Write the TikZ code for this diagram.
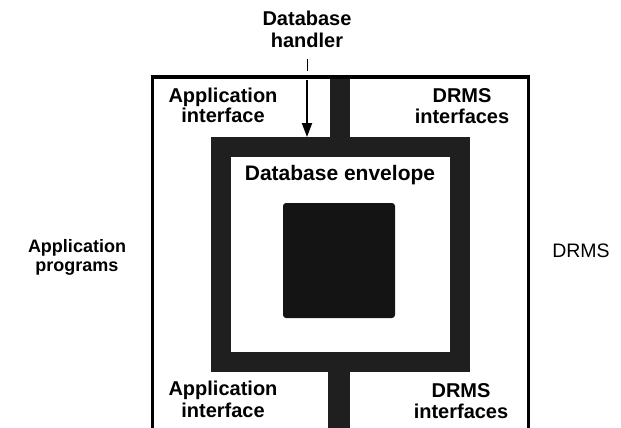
\documentclass[tikz,border=0pt]{standalone}
\usepackage{fontspec}
\setmainfont{Liberation Sans}
\usetikzlibrary{arrows.meta}
\begin{document}
\begin{tikzpicture}[x=1pt,y=-1pt,
  lbl/.style={anchor=base,inner sep=0pt,font=\bfseries\fontsize{20}{22}\selectfont},
  dark/.style={fill=black!88,draw=none,inner sep=0pt},
  frame/.style={line width=3pt,line cap=butt,line join=miter}]
\useasboundingbox (0,0) rectangle (621,428);
% outer frame
\coordinate (fBL) at (152,428);
\coordinate (fTL) at (152,77);
\coordinate (fTR) at (528,77);
\coordinate (fBR) at (528,428);
\draw[frame] (fBL) -- (fTL) -- (fTR) -- (fBR);
% envelope
\node[draw=black!88,line width=20pt,line join=miter,minimum width=239pt,minimum height=215pt,
      inner sep=0pt] (env) at (340.5,254.5) {};
% core
\node[dark,fill=black!92,rounded corners=3pt,minimum width=112pt,minimum height=115pt] (core) at (339,260.5) {};
% bars
\node[dark,minimum width=20pt,minimum height=58pt] (busTop) at (340,108) {};
\node[dark,minimum width=22pt,minimum height=57pt] (busBot) at (339,400.5) {};
% arrow
\coordinate (arrS) at (307,80);
\draw[line width=2pt,-{Triangle[width=10pt,length=14pt]}] (arrS) -- (arrS |- env.north);
\coordinate (tk1) at (307,59);
\coordinate (tk2) at (307,71);
\draw[line width=0.8pt] (tk1) -- (tk2);
% labels
\node[lbl] (dbh1) at (307,26) {Database};
\node[lbl] (dbh2) at (307,48) {handler};
\node[lbl] (ai1) at (223,102) {Application};
\node[lbl] (ai2) at (223,122) {interface};
\node[lbl] (di1) at (462,102) {DRMS};
\node[lbl] (di2) at (462,123) {interfaces};
\node[lbl,font=\bfseries\fontsize{21}{23}\selectfont] (envl) at (340,180) {Database envelope};
\node[lbl,font=\bfseries\fontsize{18}{20}\selectfont] (ap1) at (77,252) {Application};
\node[lbl,font=\bfseries\fontsize{18}{20}\selectfont] (ap2) at (77,271) {programs};
\node[lbl,font=\fontsize{19.5}{21}\selectfont] (drms) at (581,257) {DRMS};
\node[lbl] (ai3) at (223,395) {Application};
\node[lbl] (ai4) at (223,417) {interface};
\node[lbl] (di3) at (461,397) {DRMS};
\node[lbl] (di4) at (461,418) {interfaces};
\end{tikzpicture}
\end{document}
